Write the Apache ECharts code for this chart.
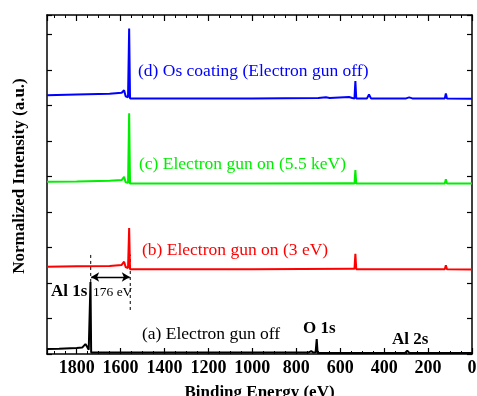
<!DOCTYPE html>
<html><head><meta charset="utf-8">
<script src="https://cdn.jsdelivr.net/npm/echarts@6/dist/echarts.min.js"></script>
<style>html,body{margin:0;padding:0;background:#fff}#c{width:477px;height:396px}</style>
</head><body><div id="c"></div>
<script>
// Binding energy (eV) and normalized intensity (offset, a.u.)
const aE = [1935,1880,1800,1775,1766,1760,1752,1745,1740,1737,1734,1720,1600,1200,900,745,732,722,712,707,703,600,305,295,285,0];
const aI = [0.14,0.15,0.17,0.18,0.21,0.28,0.2,0.12,0.08,2.03,0.04,0.04,0.04,0.04,0.04,0.04,0.08,0.04,0.05,0.42,0.03,0.03,0.03,0.09,0.03,0.03];
const bE = [1935,1800,1650,1595,1584,1577,1566,1561,1557,1500,1000,548,540,535,531,527,400,124,119,114,0];
const bI = [2.46,2.47,2.48,2.51,2.6,2.45,2.42,3.55,2.39,2.39,2.39,2.4,2.44,2.4,2.82,2.39,2.39,2.39,2.5,2.39,2.38];
const cE = [1935,1800,1650,1595,1584,1577,1566,1561,1557,1500,1000,548,540,535,531,527,400,124,119,114,0];
const cI = [4.85,4.86,4.88,4.9,4.99,4.84,4.82,6.78,4.8,4.8,4.8,4.81,4.86,4.8,5.18,4.8,4.8,4.8,4.92,4.8,4.8];
const dE = [1935,1800,1650,1595,1584,1577,1566,1561,1557,1500,1000,700,665,656,648,560,551,545,535,531,527,478,469,460,300,286,280,272,124,119,114,0];
const dI = [7.29,7.31,7.33,7.36,7.43,7.26,7.23,9.17,7.2,7.2,7.2,7.21,7.23,7.27,7.21,7.24,7.29,7.21,7.2,7.69,7.2,7.2,7.31,7.2,7.2,7.23,7.26,7.2,7.2,7.34,7.2,7.19];
const xTicks = [0,200,400,600,800,1000,1200,1400,1600,1800];
const shift = {from:1736, to:1556, label:'176 eV'};
const seriesNames = ['(a) Electron gun off','(b) Electron gun on (3 eV)','(c) Electron gun on (5.5 keV)','(d) Os coating (Electron gun off)'];
const colors = ['#000000','#ff0000','#00ee00','#0000ff'];
const xTitle = 'Binding Energy (eV)';
const yTitle = 'Normalized Intensity (a.u.)';

const serif = '"Liberation Serif","DejaVu Serif",serif';
function pts(E,I){return E.map((e,i)=>[e,I[i]]);}
const chart = echarts.init(document.getElementById('c'), null, {renderer:'canvas'});
const mk = (name,E,I,col)=>({name, type:'line', data:pts(E,I), showSymbol:false, symbol:'none',
  lineStyle:{color:col,width:2}, itemStyle:{color:col}, animation:false, z:3});
const series = [
  mk(seriesNames[0],aE,aI,colors[0]),
  mk(seriesNames[1],bE,bI,colors[1]),
  mk(seriesNames[2],cE,cI,colors[2]),
  mk(seriesNames[3],dE,dI,colors[3]),
  {type:'line', name:'dash1', data:[[shift.from,2.03],[shift.from,2.8]], symbol:'none', lineStyle:{color:'#000',width:1,type:[3,3]}, animation:false, z:2},
  {type:'line', name:'dash2', data:[[shift.to,1.24],[shift.to,2.8]], symbol:'none', lineStyle:{color:'#000',width:1,type:[3,3]}, animation:false, z:2,
   markLine:{silent:true, animation:false, symbol:['arrow','arrow'], symbolSize:[7,8], label:{show:false},
     lineStyle:{color:'#000',width:1.3,type:'solid'},
     data:[[{coord:[shift.from-2,2.17]},{coord:[shift.to+2,2.17]}]]}}
];
const axisLine = {show:true,onZero:false,lineStyle:{color:'#000',width:1.5}};
const xTick = {inside:true,length:6,lineStyle:{color:'#000',width:1.2}};
const xMinor = {show:true,splitNumber:4,length:3,lineStyle:{color:'#000',width:1}};
const yTick = {inside:true,length:5,lineStyle:{color:'#000',width:1.2}};
chart.setOption({
  animation:false,
  grid:{left:47,right:5,top:15,bottom:42,containLabel:false,outerBoundsMode:'none'},
  xAxis:[{type:'value', inverse:true, min:0, max:1935, interval:200, axisLine, splitLine:{show:false},
      name:xTitle, nameLocation:'middle', nameGap:30,
      nameTextStyle:{fontFamily:serif,fontWeight:'bold',fontSize:17,color:'#000'},
      axisTick:xTick, minorTick:xMinor,
      axisLabel:{fontFamily:serif,fontWeight:'bold',fontSize:18,color:'#000',margin:5,
        formatter:v=>xTicks.indexOf(v)>=0?String(v):'', showMaxLabel:false, showMinLabel:true}},
    {type:'value', inverse:true, position:'top', min:0, max:1935, interval:200, axisLine, splitLine:{show:false},
      axisTick:xTick, minorTick:xMinor, axisLabel:{show:false}}],
  yAxis:[{type:'value', min:0, max:9.55, interval:1, axisLine, splitLine:{show:false},
      axisTick:yTick, axisLabel:{show:false}},
    {type:'value', position:'right', min:0, max:9.55, interval:1, axisLine, splitLine:{show:false},
      axisTick:yTick, axisLabel:{show:false}}],
  series,
  graphic:[
    {type:'text', x:20, y:176, rotation:Math.PI/2, style:{text:yTitle, font:'bold 17px '+serif, fill:'#000', align:'center', verticalAlign:'middle'}},
    {type:'text', left:138, top:62, style:{text:seriesNames[3], font:'17.5px '+serif, fill:colors[3]}},
    {type:'text', left:139, top:155, style:{text:seriesNames[2], font:'17.5px '+serif, fill:colors[2]}},
    {type:'text', left:142, top:241, style:{text:seriesNames[1], font:'17.5px '+serif, fill:colors[1]}},
    {type:'text', left:142, top:325, style:{text:seriesNames[0], font:'17.5px '+serif, fill:'#000'}},
    {type:'text', left:51, top:283, style:{text:'Al 1s', font:'bold 17px '+serif, fill:'#000'}},
    {type:'text', left:93, top:285, style:{text:shift.label, font:'13.5px '+serif, fill:'#000'}},
    {type:'text', left:303, top:320, style:{text:'O 1s', font:'bold 17px '+serif, fill:'#000'}},
    {type:'text', left:392, top:331, style:{text:'Al 2s', font:'bold 17px '+serif, fill:'#000'}}
  ]
});
</script></body></html>
